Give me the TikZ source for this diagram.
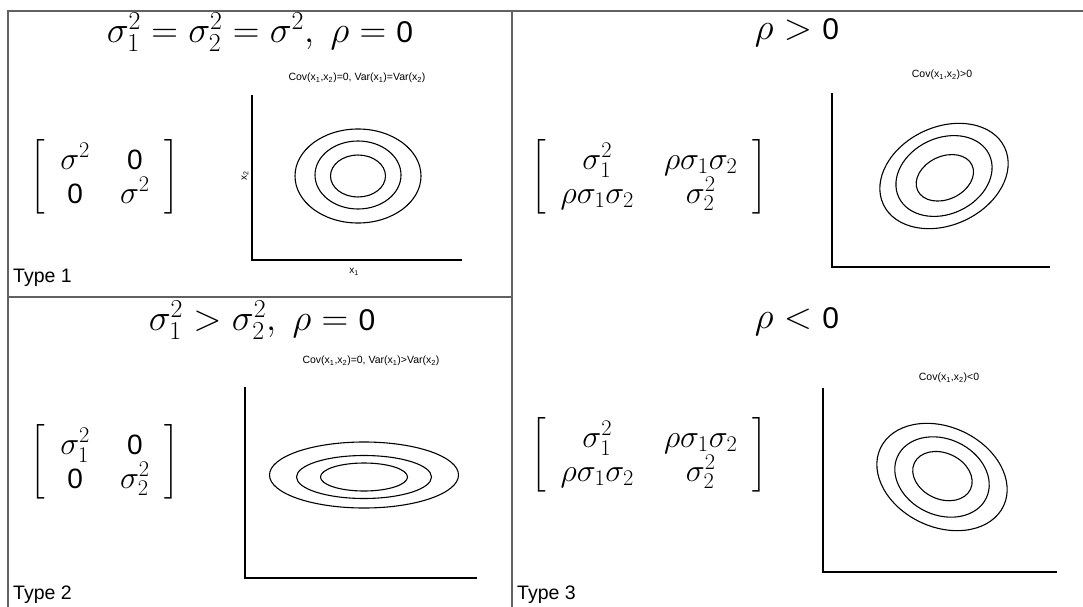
\documentclass[tikz,border=0pt]{standalone}
\usepackage{fix-cm}
\usepackage{amsmath}
\usepackage{fontspec}
\setmainfont{Liberation Sans}
\newcommand{\zr}{\text{\fontsize{28}{30}\selectfont 0}}
\newcommand{\zt}{\text{\fontsize{30}{32}\selectfont 0}}
\newcommand{\sbx}[1]{\textsubscript{#1}}
\begin{document}
\begin{tikzpicture}[x=1pt,y=-1pt,
  frame/.style={draw=black!62,line width=1.8pt},
  axis/.style={draw=black,line width=1.3pt},
  contour/.style={draw=black,line width=1.1pt},
  title/.style={font=\fontsize{37}{42}\selectfont,inner sep=0pt},
  mat/.style={font=\fontsize{32}{32}\selectfont,inner sep=0pt},
  cov/.style={font=\fontsize{10.5}{12}\selectfont,inner sep=0pt},
  axlab/.style={font=\fontsize{10}{11}\selectfont,inner sep=0pt},
  typelab/.style={font=\fontsize{19.5}{22}\selectfont,inner sep=0pt,anchor=south west}]
\useasboundingbox (0,0) rectangle (1083,607);
\fill[white] (0,0) rectangle (1083,607);
% frame
\draw[frame] (1083,11) -- (8,11) -- (8,607);
\draw[frame] (512,11) -- (512,607);
\draw[frame] (8,297) -- (512,297);
% titles
\node[title] (t1) at (260,32) {$\sigma_1^2=\sigma_2^2=\sigma^2,\ \rho=\zt$};
\node[title] (t2) at (262,320) {$\sigma_1^2>\sigma_2^2,\ \rho=\zt$};
\node[title] (t3) at (797,33) {$\rho>\zt$};
\node[title] (t4) at (797,322) {$\rho<\zt$};
% matrices
\setlength{\arraycolsep}{15pt}
\renewcommand{\arraystretch}{0.78}
\node[mat] (m1) at (105,177) {$\left[\begin{array}{cc}\sigma^2 & \zr\\ \zr & \sigma^2\end{array}\right]$};
\node[mat] (m2) at (105,462) {$\left[\begin{array}{cc}\sigma_1^2 & \zr\\ \zr & \sigma_2^2\end{array}\right]$};
\node[mat] (m3) at (649,177) {$\left[\begin{array}{cc}\sigma_1^2 & \rho\sigma_1\sigma_2\\ \rho\sigma_1\sigma_2 & \sigma_2^2\end{array}\right]$};
\node[mat] (m4) at (649,455) {$\left[\begin{array}{cc}\sigma_1^2 & \rho\sigma_1\sigma_2\\ \rho\sigma_1\sigma_2 & \sigma_2^2\end{array}\right]$};
% plot 1
\node[cov] (c1) at (357,78) {Cov(x\sbx{1},x\sbx{2})=0, Var(x\sbx{1})=Var(x\sbx{2})};
\coordinate (o1) at (252,260);
\draw[axis] (252,95) -- (o1) -- (462,260);
\node[axlab,rotate=90] (y1) at (245,176) {x\sbx{2}};
\node[axlab] (x1) at (354,272) {x\sbx{1}};
\draw[contour] (358,176) ellipse [x radius=63, y radius=47];
\draw[contour] (358,175) ellipse [x radius=43, y radius=34];
\draw[contour] (358,176) ellipse [x radius=27.5, y radius=21];
% plot 2 (top right)
\node[cov] (c2) at (942,75) {Cov(x\sbx{1},x\sbx{2})>0};
\coordinate (o2) at (832,267);
\draw[axis] (832,93) -- (o2) -- (1050,267);
\begin{scope}[rotate around={25:(944,176)}]
\draw[contour] (944,176) ellipse [x radius=67, y radius=49];
\draw[contour] (944,176) ellipse [x radius=50, y radius=38];
\draw[contour] (944,178) ellipse [x radius=30, y radius=21.5];
\end{scope}
% plot 3 (bottom left)
\node[cov] (c3) at (371,361) {Cov(x\sbx{1},x\sbx{2})=0, Var(x\sbx{1})>Var(x\sbx{2})};
\coordinate (o3) at (245,578);
\draw[axis] (245,387) -- (o3) -- (477,578);
\draw[contour] (364,475) ellipse [x radius=94.5, y radius=33];
\draw[contour] (364,477) ellipse [x radius=67.5, y radius=21.5];
\draw[contour] (364,477) ellipse [x radius=43.5, y radius=14];
% plot 4 (bottom right)
\node[cov] (c4) at (949,378) {Cov(x\sbx{1},x\sbx{2})<0};
\coordinate (o4) at (823,572);
\draw[axis] (823,388) -- (o4) -- (1057,572);
\begin{scope}[rotate around={-25:(942,477)}]
\draw[contour] (942,477) ellipse [x radius=68, y radius=50];
\draw[contour] (942,477) ellipse [x radius=49, y radius=38];
\draw[contour] (942,476) ellipse [x radius=31, y radius=23];
\end{scope}
% type labels
\node[typelab] (ty1) at (13,287) {Type 1};
\node[typelab] (ty2) at (13,604) {Type 2};
\node[typelab] (ty3) at (517,604) {Type 3};
\end{tikzpicture}
\end{document}
